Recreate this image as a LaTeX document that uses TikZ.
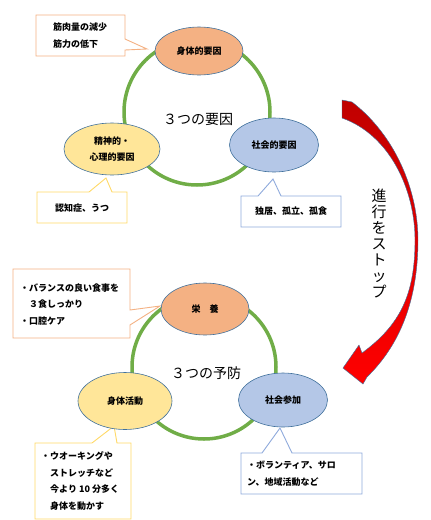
\documentclass[tikz,border=0pt]{standalone}
\usepackage{fontspec}
\setmainfont{Noto Sans CJK JP}
\usetikzlibrary{shapes.geometric}

\definecolor{ringgreen}{HTML}{70AD47}
\definecolor{edgeblue}{HTML}{41719C}
\definecolor{fillorange}{HTML}{F4B183}
\definecolor{fillyellow}{HTML}{FFE699}
\definecolor{fillblue}{HTML}{B4C7E7}
\definecolor{lineorange}{HTML}{F4B183}
\definecolor{lineyellow}{HTML}{FFD966}
\definecolor{lineblue}{HTML}{8FAADC}
\definecolor{arrowdark}{HTML}{C00000}
\definecolor{arrowred}{HTML}{FF0000}

\tikzset{
  ring/.style={draw=ringgreen, line width=3.5pt},
  factor/.style={ellipse, draw=edgeblue, line width=0.6pt, inner sep=0pt,
    align=center, font=\bfseries\fontsize{9}{16}\selectfont},
  notebox/.style={line width=0.9pt, fill=white},
  notetext/.style={inner sep=0pt, align=left, font=\bfseries\fontsize{9}{16.5}\selectfont},
  title/.style={inner sep=0pt, font=\fontsize{14}{16}\selectfont}
}

\begin{document}
\begin{tikzpicture}[x=1pt, y=-1pt]
    \useasboundingbox (0,0) rectangle (431,520);

    % 3つの要因
    \draw[ring] (197,112) circle[radius=73pt];
    \node[title] (yoin) at (198,119) {３つの要因};

    \draw[notebox, draw=lineorange] (36,15) -- (125,15) -- (125,39) -- (147,49) -- (125,50) -- (125,56) -- (36,56) -- cycle;
    \node[notetext] (kinniku) at (80,35.5) {筋肉量の減少\\筋力の低下};
    \draw[notebox, draw=lineyellow] (37,192) -- (89,192) -- (106,178) -- (112,192) -- (127,192) -- (127,223) -- (37,223) -- cycle;
    \node[notetext] (ninchi) at (82,208) {認知症、うつ};
    \draw[notebox, draw=lineblue] (241,196) -- (258,196) -- (273,179) -- (281,196) -- (341,196) -- (341,227) -- (241,227) -- cycle;
    \node[notetext] (dokkyo) at (291,211.5) {独居、孤立、孤食};

    \node[factor, fill=fillorange, minimum width=88pt, minimum height=48pt] (shintai) at (199,51) {身体的要因};
    \node[factor, fill=fillyellow, minimum width=96pt, minimum height=52pt] (seishin) at (112,149) {精神的・\\心理的要因};
    \node[factor, fill=fillblue, minimum width=89pt, minimum height=54pt] (shakai) at (274,145) {社会的要因};

    % 進行をストップ
    \draw[draw=edgeblue, line width=0.4pt, top color=arrowdark, bottom color=arrowred]
      (342,100) -- (352,102)
      .. controls (395,135) and (418,190) .. (418,240)
      .. controls (418,300) and (400,345) .. (367,377)
      -- (363,384) -- (343,368) -- (359,345) -- (362,353)
      .. controls (400,325) and (415,295) .. (415,240)
      .. controls (415,190) and (390,135) .. (342,118) -- cycle;
    \node[inner sep=0pt, align=center, font=\fontsize{15}{16}\selectfont] (stop) at (379,243) {進\\行\\を\\ス\\ト\\ッ\\プ};

    % 3つの予防
    \draw[ring] (204,367) circle[radius=72pt];
    \node[title] (yobo) at (206,373) {３つの予防};

    \draw[notebox, draw=lineorange] (13,269) -- (130,269) -- (130,310) -- (160,306) -- (130,325) -- (130,338) -- (13,338) -- cycle;
    \node[notetext, anchor=west] (eiyo-t) at (20,304.5) {・バランスの良い食事を\\　３食しっかり\\・口腔ケア};
    \draw[notebox, draw=lineyellow] (35,443) -- (92,443) -- (114,426) -- (117,443) -- (131,443) -- (131,519) -- (35,519) -- cycle;
    \node[notetext, anchor=west] (katsudo-t) at (41,481) {・ウオーキングや\\　ストレッチなど\\　今より 10 分多く\\　身体を動かす};
    \draw[notebox, draw=lineblue] (241,453) -- (262,453) -- (280,428) -- (292,453) -- (362,453) -- (362,494) -- (241,494) -- cycle;
    \node[notetext, anchor=west] (sanka-t) at (247,473.5) {・ボランティア、サロ\\ン、地域活動など};

    \node[factor, fill=fillorange, minimum width=88pt, minimum height=52pt] (eiyo) at (205,309) {栄　養};
    \node[factor, fill=fillyellow, minimum width=94pt, minimum height=57pt] (katsudo) at (125,401) {身体活動};
    \node[factor, fill=fillblue, minimum width=89pt, minimum height=54pt] (sanka) at (283,400) {社会参加};
\end{tikzpicture}
\end{document}
